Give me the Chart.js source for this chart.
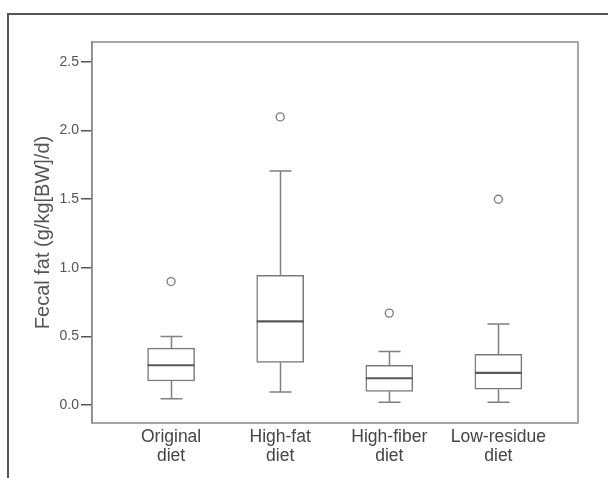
<!DOCTYPE html>
<html>
<head>
<meta charset="utf-8">
<script src="https://cdn.jsdelivr.net/npm/chart.js@4/dist/chart.umd.min.js"></script>
<style>
  html, body { margin: 0; padding: 0; background: #ffffff; }
  #wrap { width: 608px; height: 478px; position: relative; }
</style>
</head>
<body>
<div id="wrap"><canvas id="c" width="608" height="478"></canvas></div>
<script>
// ---- Data ----
const categories = [["Original", "diet"], ["High-fat", "diet"], ["High-fiber", "diet"], ["Low-residue", "diet"]];
const whiskerLow  = [0.045, 0.095, 0.02, 0.02];
const quartile1   = [0.175, 0.31, 0.10, 0.115];
const medians     = [0.29, 0.61, 0.195, 0.235];
const quartile3   = [0.415, 0.945, 0.29, 0.37];
const whiskerHigh = [0.50, 1.705, 0.39, 0.59];
const outliers    = [0.90, 2.10, 0.67, 1.50];
const yTicks      = [0.0, 0.5, 1.0, 1.5, 2.0, 2.5];
const yTitle      = "Fecal fat (g/kg[BW]/d)";

const positions = categories.map((_, i) => i);
const FONT = "'Liberation Sans', Arial, sans-serif";

const boxData = positions.map(i => ({ x: i, y: [quartile1[i], quartile3[i]] }));
const outlierData = positions.map(i => ({ x: i, y: outliers[i] }));

const boxPlugin = {
  id: 'boxExtras',
  beforeDraw(chart) {
    const ctx = chart.ctx;
    ctx.save();
    ctx.fillStyle = '#ffffff';
    ctx.fillRect(0, 0, chart.width, chart.height);
    // outer frame (top and left)
    ctx.strokeStyle = '#555555';
    ctx.lineWidth = 2;
    ctx.beginPath();
    ctx.moveTo(8, chart.height);
    ctx.lineTo(8, 14);
    ctx.lineTo(chart.width, 14);
    ctx.stroke();
    ctx.restore();
  },
  beforeDatasetsDraw(chart) {
    const ctx = chart.ctx;
    const xs = chart.scales.x, ys = chart.scales.y;
    const capHalf = 11;
    ctx.save();
    ctx.strokeStyle = '#808080';
    ctx.lineWidth = 1.5;
    positions.forEach(i => {
      const cx = Math.round(xs.getPixelForValue(i)) + 0.5;
      const pLow = ys.getPixelForValue(whiskerLow[i]);
      const pQ1 = ys.getPixelForValue(quartile1[i]);
      const pQ3 = ys.getPixelForValue(quartile3[i]);
      const pHigh = ys.getPixelForValue(whiskerHigh[i]);
      ctx.beginPath();
      ctx.moveTo(cx, pQ1); ctx.lineTo(cx, pLow);
      ctx.moveTo(cx - capHalf, pLow); ctx.lineTo(cx + capHalf, pLow);
      ctx.moveTo(cx, pQ3); ctx.lineTo(cx, pHigh);
      ctx.moveTo(cx - capHalf, pHigh); ctx.lineTo(cx + capHalf, pHigh);
      ctx.stroke();
    });
    ctx.restore();
  },
  afterDatasetsDraw(chart) {
    const ctx = chart.ctx;
    const xs = chart.scales.x, ys = chart.scales.y;
    const half = 23.5;
    ctx.save();
    ctx.strokeStyle = '#5a5a5a';
    ctx.lineWidth = 2.2;
    positions.forEach(i => {
      const cx = xs.getPixelForValue(i);
      const pm = ys.getPixelForValue(medians[i]);
      ctx.beginPath();
      ctx.moveTo(cx - half, pm); ctx.lineTo(cx + half, pm);
      ctx.stroke();
    });
    // plot frame
    const a = chart.chartArea;
    ctx.strokeStyle = '#8a8a8a';
    ctx.lineWidth = 1.5;
    ctx.strokeRect(a.left, a.top, a.right - a.left, a.bottom - a.top);
    ctx.restore();
  }
};

new Chart(document.getElementById('c'), {
  type: 'bar',
  data: {
    datasets: [
      {
        type: 'bar',
        data: boxData,
        backgroundColor: '#ffffff',
        borderColor: '#7a7a7a',
        borderWidth: 1.5,
        borderSkipped: false,
        barThickness: 47,
        order: 2
      },
      {
        type: 'scatter',
        data: outlierData,
        pointRadius: 4,
        pointStyle: 'circle',
        borderColor: '#7a7a7a',
        backgroundColor: '#ffffff',
        borderWidth: 1.3,
        order: 1
      }
    ]
  },
  plugins: [boxPlugin],
  options: {
    responsive: false,
    animation: false,
    events: [],
    layout: { padding: { left: 8, top: 42, right: 30, bottom: 0 } },
    plugins: { legend: { display: false }, tooltip: { enabled: false } },
    scales: {
      x: {
        type: 'linear',
        offset: false,
        min: -0.725,
        max: 3.73,
        grid: { display: false, drawTicks: false },
        border: { display: false },
        afterBuildTicks(scale) { scale.ticks = positions.map(v => ({ value: v })); },
        afterFit(scale) { scale.height = 55; },
        ticks: {
          autoSkip: false,
          maxRotation: 0,
          padding: 4,
          color: '#454545',
          font: { family: FONT, size: 17.5, lineHeight: 1.12 },
          callback: (v) => categories[v] || ''
        }
      },
      y: {
        type: 'linear',
        min: -0.131,
        max: 2.646,
        grid: { drawOnChartArea: false, drawTicks: true, tickLength: 11, color: '#555555', lineWidth: 1.5 },
        border: { display: true, color: '#8a8a8a', width: 1.5 },
        afterBuildTicks(scale) { scale.ticks = yTicks.map(v => ({ value: v })); },
        afterFit(scale) { scale.width = 84; },
        ticks: {
          padding: 2,
          color: '#555555',
          font: { family: FONT, size: 14 },
          callback: (v) => Number(v).toFixed(1)
        },
        title: {
          display: true,
          text: yTitle,
          color: '#555555',
          padding: { top: 23, bottom: 0 },
          font: { family: FONT, size: 20 }
        }
      }
    }
  }
});
</script>
</body>
</html>
